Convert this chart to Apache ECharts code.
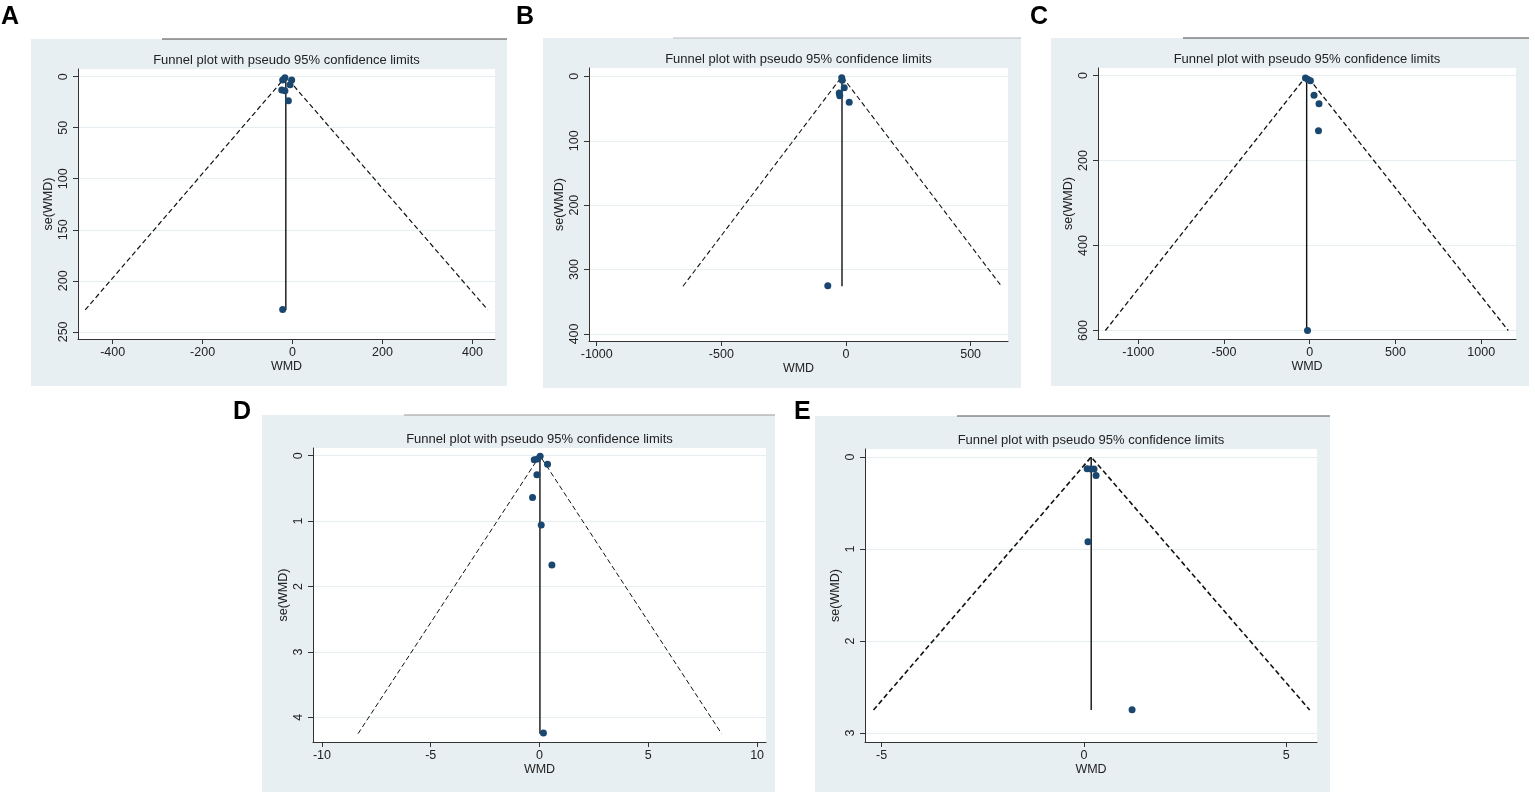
<!DOCTYPE html>
<html>
<head>
<meta charset="utf-8">
<script src="https://cdn.jsdelivr.net/npm/echarts@6/dist/echarts.min.js"></script>
<style>
html, body { margin: 0; padding: 0; background: #fff; }
#main { width: 1535px; height: 798px; }
</style>
</head>
<body>
<div id="main"></div>
<script>
// studies: [WMD, se(WMD)]
var pointsA = [[-17, 1], [-22, 3.2], [-2, 3.2], [-5.6, 8], [-24, 13], [-17, 13.7], [-9.3, 23.5], [-22, 228]];
var pointsB = [[-17, 2], [-15, 6], [-7, 17.6], [-27, 26], [-25, 30], [13, 40], [-73, 325]];
var pointsC = [[-25, 5.5], [-10, 9], [4, 12], [25, 46], [54, 66], [51, 130], [-13, 600]];
var pointsD = [[0.03, 0.01], [-0.24, 0.06], [-0.09, 0.05], [0.37, 0.13], [-0.12, 0.29], [-0.32, 0.64], [0.08, 1.06], [0.57, 1.67], [0.18, 4.24]];
var pointsE = [[0.08, 0.127], [0.17, 0.13], [0.25, 0.13], [0.30, 0.2], [0.10, 0.92], [1.19, 2.747]];

// pseudo 95% limits (left end, apex, right end) and pooled line
var funnelA = [[-461, 228.5], [-15, 0], [434, 228.5]];
var funnelB = [[-654, 326], [-16, 0], [624, 326]];
var funnelC = [[-1192, 600], [-18, 0], [1158, 600]];
var funnelD = [[-8.34, 4.25], [0.02, 0], [8.37, 4.25]];
var funnelE = [[-5.2, 2.75], [0.18, 0], [5.58, 2.75]];
var pooledA = [[-15, 0], [-15, 228.5]];
var pooledB = [[-16, 0], [-16, 326]];
var pooledC = [[-18, 0], [-18, 600]];
var pooledD = [[0.02, 0], [0.02, 4.25]];
var pooledE = [[0.18, 0], [0.18, 2.75]];

// tick labels
var xTicksA = [-400, -200, 0, 200, 400];
var yTicksA = [0, 50, 100, 150, 200, 250];
var xTicksB = [-1000, -500, 0, 500];
var yTicksB = [0, 100, 200, 300, 400];
var xTicksC = [-1000, -500, 0, 500, 1000];
var yTicksC = [0, 200, 400, 600];
var xTicksD = [-10, -5, 0, 5, 10];
var yTicksD = [0, 1, 2, 3, 4];
var xTicksE = [-5, 0, 5];
var yTicksE = [0, 1, 2, 3];

var FONT = "'Liberation Sans', Arial, sans-serif";
var TITLE = 'Funnel plot with pseudo 95% confidence limits';

var panels = [
    {letter: 'A', pts: pointsA, funnel: funnelA, pooled: pooledA, xTicks: xTicksA, yTicks: yTicksA,
     x: [-477, 450], y: [-7.5, 257], dash: 1.2,
     grid: {left: 78, top: 69, width: 417, height: 270}, box: [31, 39, 476, 347], rule: [162, 507, '#444'], lab: [1, 5]},
    {letter: 'B', pts: pointsB, funnel: funnelB, pooled: pooledB, xTicks: xTicksB, yTicks: yTicksB,
     x: [-1031, 650], y: [-13, 411], dash: 1.1,
     grid: {left: 589, top: 68, width: 419, height: 273}, box: [543, 38, 478, 350], rule: [673, 1021, '#bbb'], lab: [516, 5]},
    {letter: 'C', pts: pointsC, funnel: funnelC, pooled: pooledC, xTicks: xTicksC, yTicks: yTicksC,
     x: [-1235, 1203], y: [-18, 620], dash: 1.3,
     grid: {left: 1098, top: 68, width: 418, height: 271}, box: [1051, 38, 478, 348], rule: [1183, 1529, '#444'], lab: [1030, 5]},
    {letter: 'D', pts: pointsD, funnel: funnelD, pooled: pooledD, xTicks: xTicksD, yTicks: yTicksD,
     x: [-10.41, 10.41], y: [-0.118, 4.377], dash: 1.0,
     grid: {left: 313, top: 448, width: 453, height: 294}, box: [262, 415, 513, 377], rule: [404, 775, '#999'], lab: [233, 400]},
    {letter: 'E', pts: pointsE, funnel: funnelE, pooled: pooledE, xTicks: xTicksE, yTicks: yTicksE,
     x: [-5.41, 5.76], y: [-0.087, 3.098], dash: 1.6,
     grid: {left: 865, top: 449, width: 452, height: 293}, box: [815, 416, 515, 376], rule: [957, 1330, '#555'], lab: [794, 400]}
];

function plain(v) { return String(v); }

var grids = [], xAxes = [], yAxes = [], series = [], graphics = [];

panels.forEach(function (p, i) {
    // outer panel shading, top rule and panel letter
    graphics.push({type: 'rect', z: -10, shape: {x: p.box[0], y: p.box[1], width: p.box[2], height: p.box[3]},
        style: {fill: '#e8eff2'}});
    graphics.push({type: 'line', z: -9, shape: {x1: p.rule[0], y1: p.box[1], x2: p.rule[1], y2: p.box[1]},
        style: {stroke: p.rule[2], lineWidth: 1}});
    graphics.push({type: 'text', style: {text: p.letter, x: p.lab[0], y: p.lab[1],
        font: 'bold 25px ' + FONT, fill: '#000'}});
    graphics.push({type: 'text', style: {text: TITLE, x: p.grid.left + p.grid.width / 2, y: p.grid.top - 9,
        textAlign: 'center', textVerticalAlign: 'middle', font: '13px ' + FONT, fill: '#222'}});

    grids.push({left: p.grid.left, top: p.grid.top, width: p.grid.width, height: p.grid.height,
        show: true, backgroundColor: '#fff', borderWidth: 0, outerBoundsMode: 'none'});

    xAxes.push({
        gridIndex: i, type: 'value', min: p.x[0], max: p.x[1],
        name: 'WMD', nameLocation: 'middle', nameGap: 19,
        nameTextStyle: {fontSize: 12.5, color: '#222', fontFamily: FONT},
        axisLine: {show: true, onZero: false, lineStyle: {color: '#333', width: 1}},
        axisTick: {show: true, length: 5, customValues: p.xTicks, lineStyle: {color: '#333'}},
        axisLabel: {customValues: p.xTicks, formatter: plain, fontSize: 12.5, color: '#222', margin: 7, fontFamily: FONT},
        splitLine: {show: false}
    });

    yAxes.push({
        gridIndex: i, type: 'value', inverse: true, min: p.y[0], max: p.y[1],
        name: 'se(WMD)', nameLocation: 'middle', nameGap: 23,
        nameTextStyle: {fontSize: 12.5, color: '#222', fontFamily: FONT},
        axisLine: {show: true, onZero: false, lineStyle: {color: '#333', width: 1}},
        axisTick: {show: true, length: 5, customValues: p.yTicks, lineStyle: {color: '#333'}},
        axisLabel: {customValues: p.yTicks, formatter: plain, rotate: 90, fontSize: 12.5, color: '#222', margin: 8, fontFamily: FONT},
        splitLine: {show: true, lineStyle: {color: '#e6eef1', width: 1}}
    });

    series.push({
        type: 'line', xAxisIndex: i, yAxisIndex: i, data: p.funnel,
        symbol: 'none', silent: true, z: 2,
        lineStyle: {color: '#111', width: p.dash, type: [5, 3]}
    });
    series.push({
        type: 'line', xAxisIndex: i, yAxisIndex: i, data: p.pooled,
        symbol: 'none', silent: true, z: 3,
        lineStyle: {color: '#111', width: 1.4, type: 'solid'}
    });
    series.push({
        type: 'scatter', xAxisIndex: i, yAxisIndex: i, data: p.pts,
        symbol: 'circle', symbolSize: 7, z: 4,
        itemStyle: {color: '#1a476f', opacity: 1}
    });
});

var chart = echarts.init(document.getElementById('main'));
chart.setOption({
    animation: false,
    backgroundColor: '#fff',
    textStyle: {fontFamily: FONT},
    grid: grids,
    xAxis: xAxes,
    yAxis: yAxes,
    series: series,
    graphic: graphics
});
</script>
</body>
</html>
